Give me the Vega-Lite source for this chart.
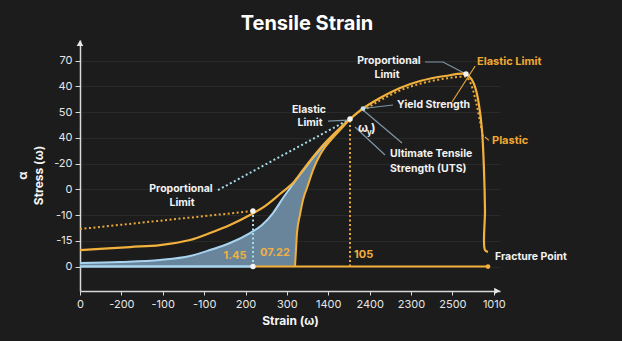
{
  "$schema": "https://vega.github.io/schema/vega-lite/v6.json",
  "width": 420,
  "height": 251,
  "autosize": {"type": "none"},
  "padding": {"left": 80, "top": 40, "right": 122, "bottom": 50},
  "background": "#1c1c1c",
  "config": {"view": {"stroke": null}, "font": "Inter"},
  "title": {"text": "Tensile Strain", "fontSize": 20, "fontWeight": "bold", "color": "#ffffff", "anchor": "middle", "dx": 17, "offset": 6, "font": "Inter"},
  "datasets": {
    "area": [
      {"x": 0, "top": 0.136, "bot": 0},
      {"x": 0.967, "top": 0.175, "bot": 0},
      {"x": 1.933, "top": 0.253, "bot": 0},
      {"x": 2.658, "top": 0.408, "bot": 0},
      {"x": 3.142, "top": 0.641, "bot": 0},
      {"x": 3.625, "top": 0.913, "bot": 0},
      {"x": 4.108, "top": 1.301, "bot": 0},
      {"x": 4.398, "top": 1.612, "bot": 0},
      {"x": 4.664, "top": 2.078, "bot": 0},
      {"x": 4.906, "top": 2.661, "bot": 0},
      {"x": 5.147, "top": 3.205, "bot": 0},
      {"x": 5.196, "top": 3.32, "bot": 0},
      {"x": 5.22, "top": 3.37, "bot": 0.641},
      {"x": 5.244, "top": 3.42, "bot": 1.301},
      {"x": 5.316, "top": 3.57, "bot": 2.001},
      {"x": 5.389, "top": 3.72, "bot": 2.584},
      {"x": 5.51, "top": 3.97, "bot": 3.166},
      {"x": 5.631, "top": 4.22, "bot": 3.749},
      {"x": 5.8, "top": 4.54, "bot": 4.33},
      {"x": 5.921, "top": 4.77, "bot": 4.64},
      {"x": 6.042, "top": 4.97, "bot": 4.876},
      {"x": 6.283, "top": 5.36, "bot": 5.303},
      {"x": 6.525, "top": 5.73, "bot": 5.73}
    ],
    "main": [
      {"i": 0, "x": 0, "y": 0.641},
      {"i": 1, "x": 1.208, "y": 0.758},
      {"i": 2, "x": 1.933, "y": 0.835},
      {"i": 3, "x": 2.658, "y": 1.03},
      {"i": 4, "x": 3.142, "y": 1.301},
      {"i": 5, "x": 3.625, "y": 1.612},
      {"i": 6, "x": 4.108, "y": 2.001},
      {"i": 7, "x": 4.471, "y": 2.35},
      {"i": 8, "x": 4.833, "y": 2.817},
      {"i": 9, "x": 5.147, "y": 3.244},
      {"i": 10, "x": 5.389, "y": 3.749},
      {"i": 11, "x": 5.631, "y": 4.254},
      {"i": 12, "x": 5.921, "y": 4.798},
      {"i": 13, "x": 6.235, "y": 5.303},
      {"i": 14, "x": 6.525, "y": 5.73},
      {"i": 15, "x": 6.839, "y": 6.139},
      {"i": 16, "x": 7.25, "y": 6.546},
      {"i": 17, "x": 7.733, "y": 6.935},
      {"i": 18, "x": 8.217, "y": 7.207},
      {"i": 19, "x": 8.821, "y": 7.401},
      {"i": 20, "x": 9.328, "y": 7.479},
      {"i": 21, "x": 9.473, "y": 7.246},
      {"i": 22, "x": 9.57, "y": 6.857},
      {"i": 23, "x": 9.642, "y": 6.274},
      {"i": 24, "x": 9.715, "y": 5.303},
      {"i": 25, "x": 9.763, "y": 3.749},
      {"i": 26, "x": 9.787, "y": 2.195},
      {"i": 27, "x": 9.787, "y": 0.641},
      {"i": 28, "x": 9.86, "y": 0.563}
    ],
    "segs": [
      {"g": "bb", "i": 0, "x": 0, "y": 0},
      {"g": "bb", "i": 1, "x": 4.181, "y": 0},
      {"g": "yb", "i": 0, "x": 4.181, "y": 0},
      {"g": "yb", "i": 1, "x": 9.86, "y": 0},
      {"g": "yd1", "i": 0, "x": 0, "y": 1.457},
      {"g": "yd1", "i": 1, "x": 4.181, "y": 2.156},
      {"g": "yd2", "i": 0, "x": 6.525, "y": 0},
      {"g": "yd2", "i": 1, "x": 6.525, "y": 5.73},
      {"g": "yd3", "i": 0, "x": 6.839, "y": 6.05},
      {"g": "yd3", "i": 1, "x": 7.25, "y": 6.45},
      {"g": "yd3", "i": 2, "x": 7.733, "y": 6.84},
      {"g": "yd3", "i": 3, "x": 8.217, "y": 7.1},
      {"g": "yd3", "i": 4, "x": 8.821, "y": 7.3},
      {"g": "yd3", "i": 5, "x": 9.3, "y": 7.38},
      {"g": "yd3", "i": 6, "x": 9.4, "y": 7.25},
      {"g": "yd3", "i": 7, "x": 9.739, "y": 5.03},
      {"g": "bd1", "i": 0, "x": 4.181, "y": 0},
      {"g": "bd1", "i": 1, "x": 4.181, "y": 2.156},
      {"g": "bd2", "i": 0, "x": 3.335, "y": 2.972},
      {"g": "bd2", "i": 1, "x": 6.525, "y": 5.73},
      {"g": "l1", "i": 0, "x": 8.337, "y": 7.945},
      {"g": "l1", "i": 1, "x": 8.772, "y": 7.945},
      {"g": "l1", "i": 2, "x": 9.328, "y": 7.479},
      {"g": "l2", "i": 0, "x": 5.993, "y": 5.652},
      {"g": "l2", "i": 1, "x": 6.477, "y": 5.691},
      {"g": "l3", "i": 0, "x": 6.839, "y": 6.139},
      {"g": "l3", "i": 1, "x": 7.564, "y": 6.274},
      {"g": "l4", "i": 0, "x": 6.646, "y": 5.419},
      {"g": "l4", "i": 1, "x": 7.371, "y": 4.332},
      {"g": "l5", "i": 0, "x": 6.839, "y": 6.08},
      {"g": "l5", "i": 1, "x": 7.782, "y": 4.798},
      {"g": "o1", "i": 0, "x": 8.99, "y": 6.39},
      {"g": "o1", "i": 1, "x": 9.55, "y": 7.79},
      {"g": "o2", "i": 0, "x": 9.787, "y": 5.03},
      {"g": "o2", "i": 1, "x": 9.88, "y": 4.9}
    ],
    "whiteDots": [
      {"x": 9.328, "y": 7.479},
      {"x": 6.525, "y": 5.73},
      {"x": 4.181, "y": 2.156},
      {"x": 4.181, "y": 0}
    ],
    "blueDots": [{"x": 6.839, "y": 6.139}],
    "yellowDots": [{"x": 9.86, "y": 0}],
    "arrowUp": [{"x": 0, "y": 8.68}],
    "arrowRight": [{"x": 10.08, "y": -0.95}],
    "whiteCenter": [
      {"x": 2.441, "y": 3.0, "t": "Proportional"},
      {"x": 2.465, "y": 2.48, "t": "Limit"},
      {"x": 7.467, "y": 7.97, "t": "Proportional"},
      {"x": 7.419, "y": 7.45, "t": "Limit"},
      {"x": 5.534, "y": 6.1, "t": "Elastic"},
      {"x": 5.558, "y": 5.58, "t": "Limit"}
    ],
    "whiteLeft": [
      {"x": 7.661, "y": 6.274, "t": "Yield Strength"},
      {"x": 7.491, "y": 4.36, "t": "Ultimate Tensile"},
      {"x": 7.491, "y": 3.8, "t": "Strength (UTS)"},
      {"x": 10.03, "y": 0.369, "t": "Fracture Point"}
    ],
    "orangeLeft": [
      {"x": 9.594, "y": 7.945, "t": "Elastic Limit"},
      {"x": 9.957, "y": 4.876, "t": "Plastic"}
    ],
    "numCenter": [
      {"x": 3.746, "y": 0.408, "t": "1.45"},
      {"x": 4.712, "y": 0.524, "t": "07.22"}
    ],
    "numLeft": [{"x": 6.622, "y": 0.447, "t": "105"}],
    "omega": [
      {"x": 6.718, "y": 5.37, "t": "ω"},
      {"x": 7.032, "y": 5.37, "t": ")"}
    ],
    "omegaSub": [{"x": 6.936, "y": 5.2, "t": "y"}]
  },
  "encoding": {
    "x": {
      "field": "x", "type": "quantitative",
      "scale": {"domain": [0, 10.15], "nice": false, "zero": false},
      "axis": {
        "values": [0, 1, 2, 3, 4, 5, 6, 7, 8, 9, 10],
        "labelExpr": "['0','-200','-100','-100','200','300','1400','2400','2300','2500','1010'][datum.value]",
        "title": "Strain (ω)", "grid": false,
        "domainColor": "#d8d8d8", "domainWidth": 1.5,
        "tickColor": "#d8d8d8", "tickSize": 4,
        "labelColor": "#e6e6e6", "labelFontSize": 11, "labelPadding": 3, "labelFont": "Inter",
        "labelFlush": false, "labelOverlap": false,
        "titleColor": "#f5f5f5", "titleFontSize": 12, "titleFontWeight": "bold", "titleFont": "Inter", "titlePadding": 6
      }
    },
    "y": {
      "field": "y", "type": "quantitative",
      "scale": {"domain": [-0.95, 8.8], "nice": false, "zero": false},
      "axis": {
        "values": [0, 1, 2, 3, 4, 5, 6, 7, 8],
        "labelExpr": "['0','-15','-10','0','-20','40','50','40','70'][datum.value]",
        "title": ["α", "Stress (ω)"],
        "grid": true, "gridColor": "#3a3a3a", "gridOpacity": 0.45,
        "domainColor": "#d8d8d8", "domainWidth": 1.5,
        "tickColor": "#d8d8d8", "tickSize": 5,
        "labelColor": "#e6e6e6", "labelFontSize": 11, "labelPadding": 3, "labelFont": "Inter",
        "labelOverlap": false, "labelFlush": false,
        "titleColor": "#f5f5f5", "titleFontSize": 12, "titleFontWeight": "bold", "titleFont": "Inter",
        "titleX": -58, "titleY": 135, "titleAlign": "center", "titleBaseline": "middle", "titleLineHeight": 16, "titleAngle": -90
      }
    }
  },
  "layer": [
    {
      "data": {"name": "area"},
      "mark": {"type": "area", "color": "#6f8ea7", "opacity": 0.92, "interpolate": "monotone"},
      "encoding": {
        "y": {"field": "top", "type": "quantitative", "scale": {"domain": [-0.95, 8.8], "nice": false, "zero": false}},
        "y2": {"field": "bot"}
      }
    },
    {
      "data": {"name": "area"},
      "mark": {"type": "line", "color": "#a9d4f0", "strokeWidth": 2, "interpolate": "monotone"},
      "encoding": {
        "y": {"field": "top", "type": "quantitative", "scale": {"domain": [-0.95, 8.8], "nice": false, "zero": false}}
      }
    },
    {
      "data": {"name": "area"},
      "transform": [{"filter": "datum.x >= 5.19"}],
      "mark": {"type": "line", "color": "#f0b03a", "strokeWidth": 2, "interpolate": "monotone"},
      "encoding": {
        "y": {"field": "bot", "type": "quantitative", "scale": {"domain": [-0.95, 8.8], "nice": false, "zero": false}}
      }
    },
    {
      "data": {"name": "segs"},
      "transform": [{"filter": {"field": "g", "equal": "bb"}}],
      "mark": {"type": "line", "color": "#a9d4f0", "strokeWidth": 2.5},
      "encoding": {"detail": {"field": "g"}, "order": {"field": "i"}}
    },
    {
      "data": {"name": "segs"},
      "transform": [{"filter": {"field": "g", "equal": "yb"}}],
      "mark": {"type": "line", "color": "#f0b03a", "strokeWidth": 2},
      "encoding": {"detail": {"field": "g"}, "order": {"field": "i"}}
    },
    {
      "data": {"name": "segs"},
      "transform": [{"filter": {"field": "g", "oneOf": ["yd1", "yd2", "yd3"]}}],
      "mark": {"type": "line", "color": "#e8a838", "strokeWidth": 2, "strokeDash": [2, 2.5], "interpolate": "monotone"},
      "encoding": {"detail": {"field": "g"}, "order": {"field": "i"}}
    },
    {
      "data": {"name": "segs"},
      "transform": [{"filter": {"field": "g", "oneOf": ["bd1", "bd2"]}}],
      "mark": {"type": "line", "color": "#a7dbe8", "strokeWidth": 2, "strokeDash": [2, 2.5]},
      "encoding": {"detail": {"field": "g"}, "order": {"field": "i"}}
    },
    {
      "data": {"name": "segs"},
      "transform": [{"filter": {"field": "g", "oneOf": ["l1", "l2", "l3", "l4", "l5"]}}],
      "mark": {"type": "line", "color": "#7f97a6", "strokeWidth": 1.2},
      "encoding": {"detail": {"field": "g"}, "order": {"field": "i"}}
    },
    {
      "data": {"name": "segs"},
      "transform": [{"filter": {"field": "g", "oneOf": ["o1", "o2"]}}],
      "mark": {"type": "line", "color": "#e9a23b", "strokeWidth": 1.2},
      "encoding": {"detail": {"field": "g"}, "order": {"field": "i"}}
    },
    {
      "data": {"name": "main"},
      "mark": {"type": "line", "color": "#f2b13c", "strokeWidth": 2.2, "interpolate": "catmull-rom"},
      "encoding": {"order": {"field": "i"}}
    },
    {
      "data": {"name": "whiteDots"},
      "mark": {"type": "point", "filled": true, "color": "#f4f4f4", "size": 30, "opacity": 1}
    },
    {
      "data": {"name": "blueDots"},
      "mark": {"type": "point", "filled": true, "color": "#bfe3f5", "size": 22, "opacity": 1}
    },
    {
      "data": {"name": "yellowDots"},
      "mark": {"type": "point", "filled": true, "color": "#f2b13c", "size": 22, "opacity": 1}
    },
    {
      "data": {"name": "arrowUp"},
      "mark": {"type": "point", "shape": "triangle-up", "filled": true, "color": "#e6e6e6", "size": 45, "opacity": 1}
    },
    {
      "data": {"name": "arrowRight"},
      "mark": {"type": "point", "shape": "triangle-right", "filled": true, "color": "#e6e6e6", "size": 45, "opacity": 1}
    },
    {
      "data": {"name": "whiteCenter"},
      "mark": {"type": "text", "color": "#f2f2f2", "fontSize": 10.5, "fontWeight": "bold", "font": "Inter", "align": "center", "baseline": "middle"},
      "encoding": {"text": {"field": "t"}}
    },
    {
      "data": {"name": "whiteLeft"},
      "mark": {"type": "text", "color": "#f2f2f2", "fontSize": 10.5, "fontWeight": "bold", "font": "Inter", "align": "left", "baseline": "middle"},
      "encoding": {"text": {"field": "t"}}
    },
    {
      "data": {"name": "orangeLeft"},
      "mark": {"type": "text", "color": "#f0a830", "fontSize": 11, "fontWeight": "bold", "font": "Inter", "align": "left", "baseline": "middle"},
      "encoding": {"text": {"field": "t"}}
    },
    {
      "data": {"name": "numCenter"},
      "mark": {"type": "text", "color": "#f0b040", "fontSize": 11, "fontWeight": "bold", "font": "Inter", "align": "center", "baseline": "middle"},
      "encoding": {"text": {"field": "t"}}
    },
    {
      "data": {"name": "numLeft"},
      "mark": {"type": "text", "color": "#f0b040", "fontSize": 11, "fontWeight": "bold", "font": "Inter", "align": "left", "baseline": "middle"},
      "encoding": {"text": {"field": "t"}}
    },
    {
      "data": {"name": "omega"},
      "mark": {"type": "text", "color": "#f2f2f2", "fontSize": 12, "fontWeight": "bold", "font": "Inter", "align": "left", "baseline": "middle"},
      "encoding": {"text": {"field": "t"}}
    },
    {
      "data": {"name": "omegaSub"},
      "mark": {"type": "text", "color": "#f2f2f2", "fontSize": 8, "fontWeight": "bold", "font": "Inter", "align": "left", "baseline": "middle"},
      "encoding": {"text": {"field": "t"}}
    }
  ]
}
